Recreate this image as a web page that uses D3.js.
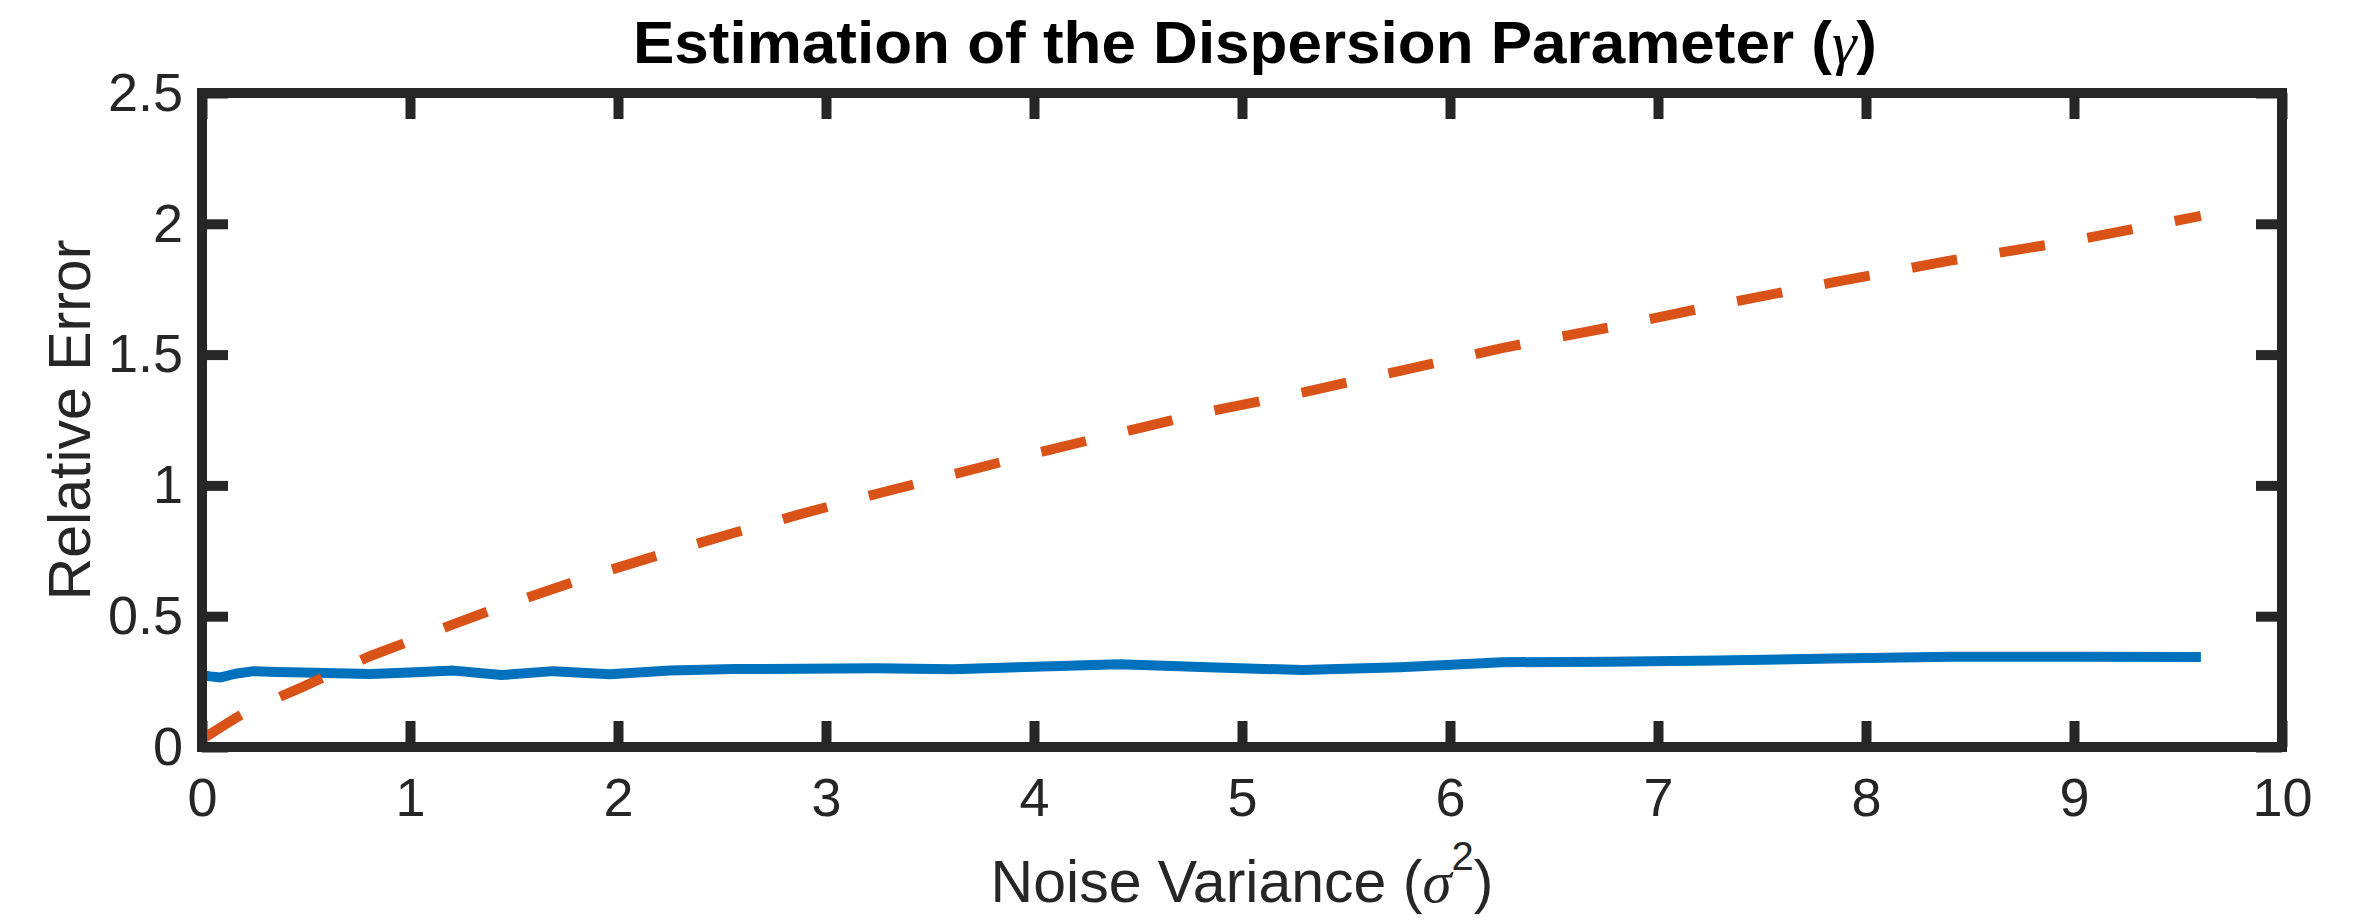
<!DOCTYPE html>
<html>
<head>
<meta charset="utf-8">
<script src="https://cdn.jsdelivr.net/npm/d3@7"></script>
<style>
  body { margin: 0; background: #fff; }
  text { font-family: "Liberation Sans", Arial, Helvetica, sans-serif; }
</style>
</head>
<body>
<div id="graph"></div>
<script>
// noise variance values (sigma^2)
var noiseVar = [0, 0.01, 0.04, 0.09, 0.16, 0.25, 0.36, 0.49, 0.64, 0.81, 1, 1.21,
  1.44, 1.69, 1.96, 2.25, 2.56, 2.89, 3.24, 3.61, 4, 4.41, 4.84, 5.29, 5.76,
  6.25, 6.76, 7.29, 7.84, 8.41, 9, 9.61];

// solid blue curve
var errProposed = [0.278, 0.274, 0.27, 0.266, 0.28, 0.29, 0.287, 0.285, 0.282, 0.279,
  0.285, 0.292, 0.275, 0.29, 0.278, 0.292, 0.298, 0.299, 0.301, 0.297, 0.307,
  0.316, 0.305, 0.294, 0.305, 0.324, 0.326, 0.331, 0.338, 0.345, 0.345, 0.344];

// dashed orange curve
var errBaseline = [0.03, 0.035, 0.05, 0.075, 0.11, 0.15, 0.187, 0.232, 0.287, 0.348,
  0.405, 0.47, 0.537, 0.605, 0.676, 0.747, 0.819, 0.893, 0.967, 1.042, 1.121,
  1.201, 1.282, 1.355, 1.438, 1.525, 1.603, 1.69, 1.776, 1.86, 1.936, 2.03];

var xTicks = [0, 1, 2, 3, 4, 5, 6, 7, 8, 9, 10];
var yTicks = [0, 0.5, 1, 1.5, 2, 2.5];

var W = 2361, H = 922;
var margin = {top: 93, right: 79, bottom: 175, left: 202},
    width = W - margin.left - margin.right,
    height = H - margin.top - margin.bottom;

var ink = "#262626";

var svg = d3.select("#graph")
  .append("svg")
    .attr("width", W)
    .attr("height", H)
    .style("background", "#fff");

var g = svg.append("g")
    .attr("transform", "translate(" + margin.left + "," + margin.top + ")");

var x = d3.scaleLinear().domain([0, 10]).range([0, width]);
var y = d3.scaleLinear().domain([0, 2.5]).range([height, 0]);

function styleAxis(sel) {
  sel.select(".domain").remove();
  sel.selectAll(".tick line").attr("stroke", ink).attr("stroke-width", 10);
  sel.selectAll(".tick text")
    .attr("fill", ink)
    .style("font-size", "54px")
    .style("font-family", '"Liberation Sans", Arial, Helvetica, sans-serif');
}

var tickLen = 26;

g.append("g")
    .attr("transform", "translate(0," + height + ")")
    .call(d3.axisBottom(x).tickValues(xTicks).tickFormat(d3.format("d"))
      .tickSizeInner(-tickLen).tickSizeOuter(0).tickPadding(31))
    .call(styleAxis);

g.append("g")
    .call(d3.axisTop(x).tickValues(xTicks).tickFormat("")
      .tickSizeInner(-tickLen).tickSizeOuter(0))
    .call(styleAxis);

g.append("g")
    .call(d3.axisLeft(y).tickValues(yTicks).tickFormat(function(d) { return String(d); })
      .tickSizeInner(-tickLen).tickSizeOuter(0).tickPadding(19))
    .call(styleAxis);

g.append("g")
    .attr("transform", "translate(" + width + ",0)")
    .call(d3.axisRight(y).tickValues(yTicks).tickFormat("")
      .tickSizeInner(-tickLen).tickSizeOuter(0))
    .call(styleAxis);

// curves
var line = d3.line()
    .x(function(d) { return x(d[0]); })
    .y(function(d) { return y(d[1]); });

g.append("path")
    .datum(d3.zip(noiseVar, errProposed))
    .attr("d", line)
    .attr("fill", "none")
    .attr("stroke", "#0072BD")
    .attr("stroke-width", 10)
    .attr("stroke-linejoin", "round");

g.append("path")
    .datum(d3.zip(noiseVar, errBaseline))
    .attr("d", line)
    .attr("fill", "none")
    .attr("stroke", "#D95319")
    .attr("stroke-width", 10)
    .attr("stroke-dasharray", "46,43");

// axes box
g.append("rect")
    .attr("x", 0).attr("y", 0)
    .attr("width", width).attr("height", height)
    .attr("fill", "none")
    .attr("stroke", ink)
    .attr("stroke-width", 10);

// title
var title = svg.append("text")
    .attr("x", 1255).attr("y", 63)
    .attr("text-anchor", "middle")
    .attr("textLength", 1244)
    .attr("lengthAdjust", "spacingAndGlyphs")
    .attr("fill", "#000")
    .style("font-size", "59px")
    .style("font-weight", "bold");
title.append("tspan").text("Estimation of the Dispersion Parameter (");
title.append("tspan")
    .style("font-family", '"Liberation Serif", serif')
    .style("font-style", "italic")
    .style("font-weight", "normal")
    .text("γ");
title.append("tspan").text(")");

// x label
var xl = svg.append("text")
    .attr("x", margin.left + width / 2).attr("y", 902)
    .attr("text-anchor", "middle")
    .attr("fill", ink)
    .style("font-size", "59px");
xl.append("tspan").text("Noise Variance (");
xl.append("tspan")
    .style("font-family", '"Liberation Serif", serif')
    .style("font-style", "italic")
    .text("σ");
xl.append("tspan")
    .attr("dy", -32)
    .style("font-size", "40px")
    .text("2");
xl.append("tspan")
    .attr("dy", 32)
    .text(")");

// y label
svg.append("text")
    .attr("transform", "translate(90," + (margin.top + height / 2) + ") rotate(-90)")
    .attr("text-anchor", "middle")
    .attr("fill", ink)
    .style("font-size", "59px")
    .text("Relative Error");
</script>
</body>
</html>
